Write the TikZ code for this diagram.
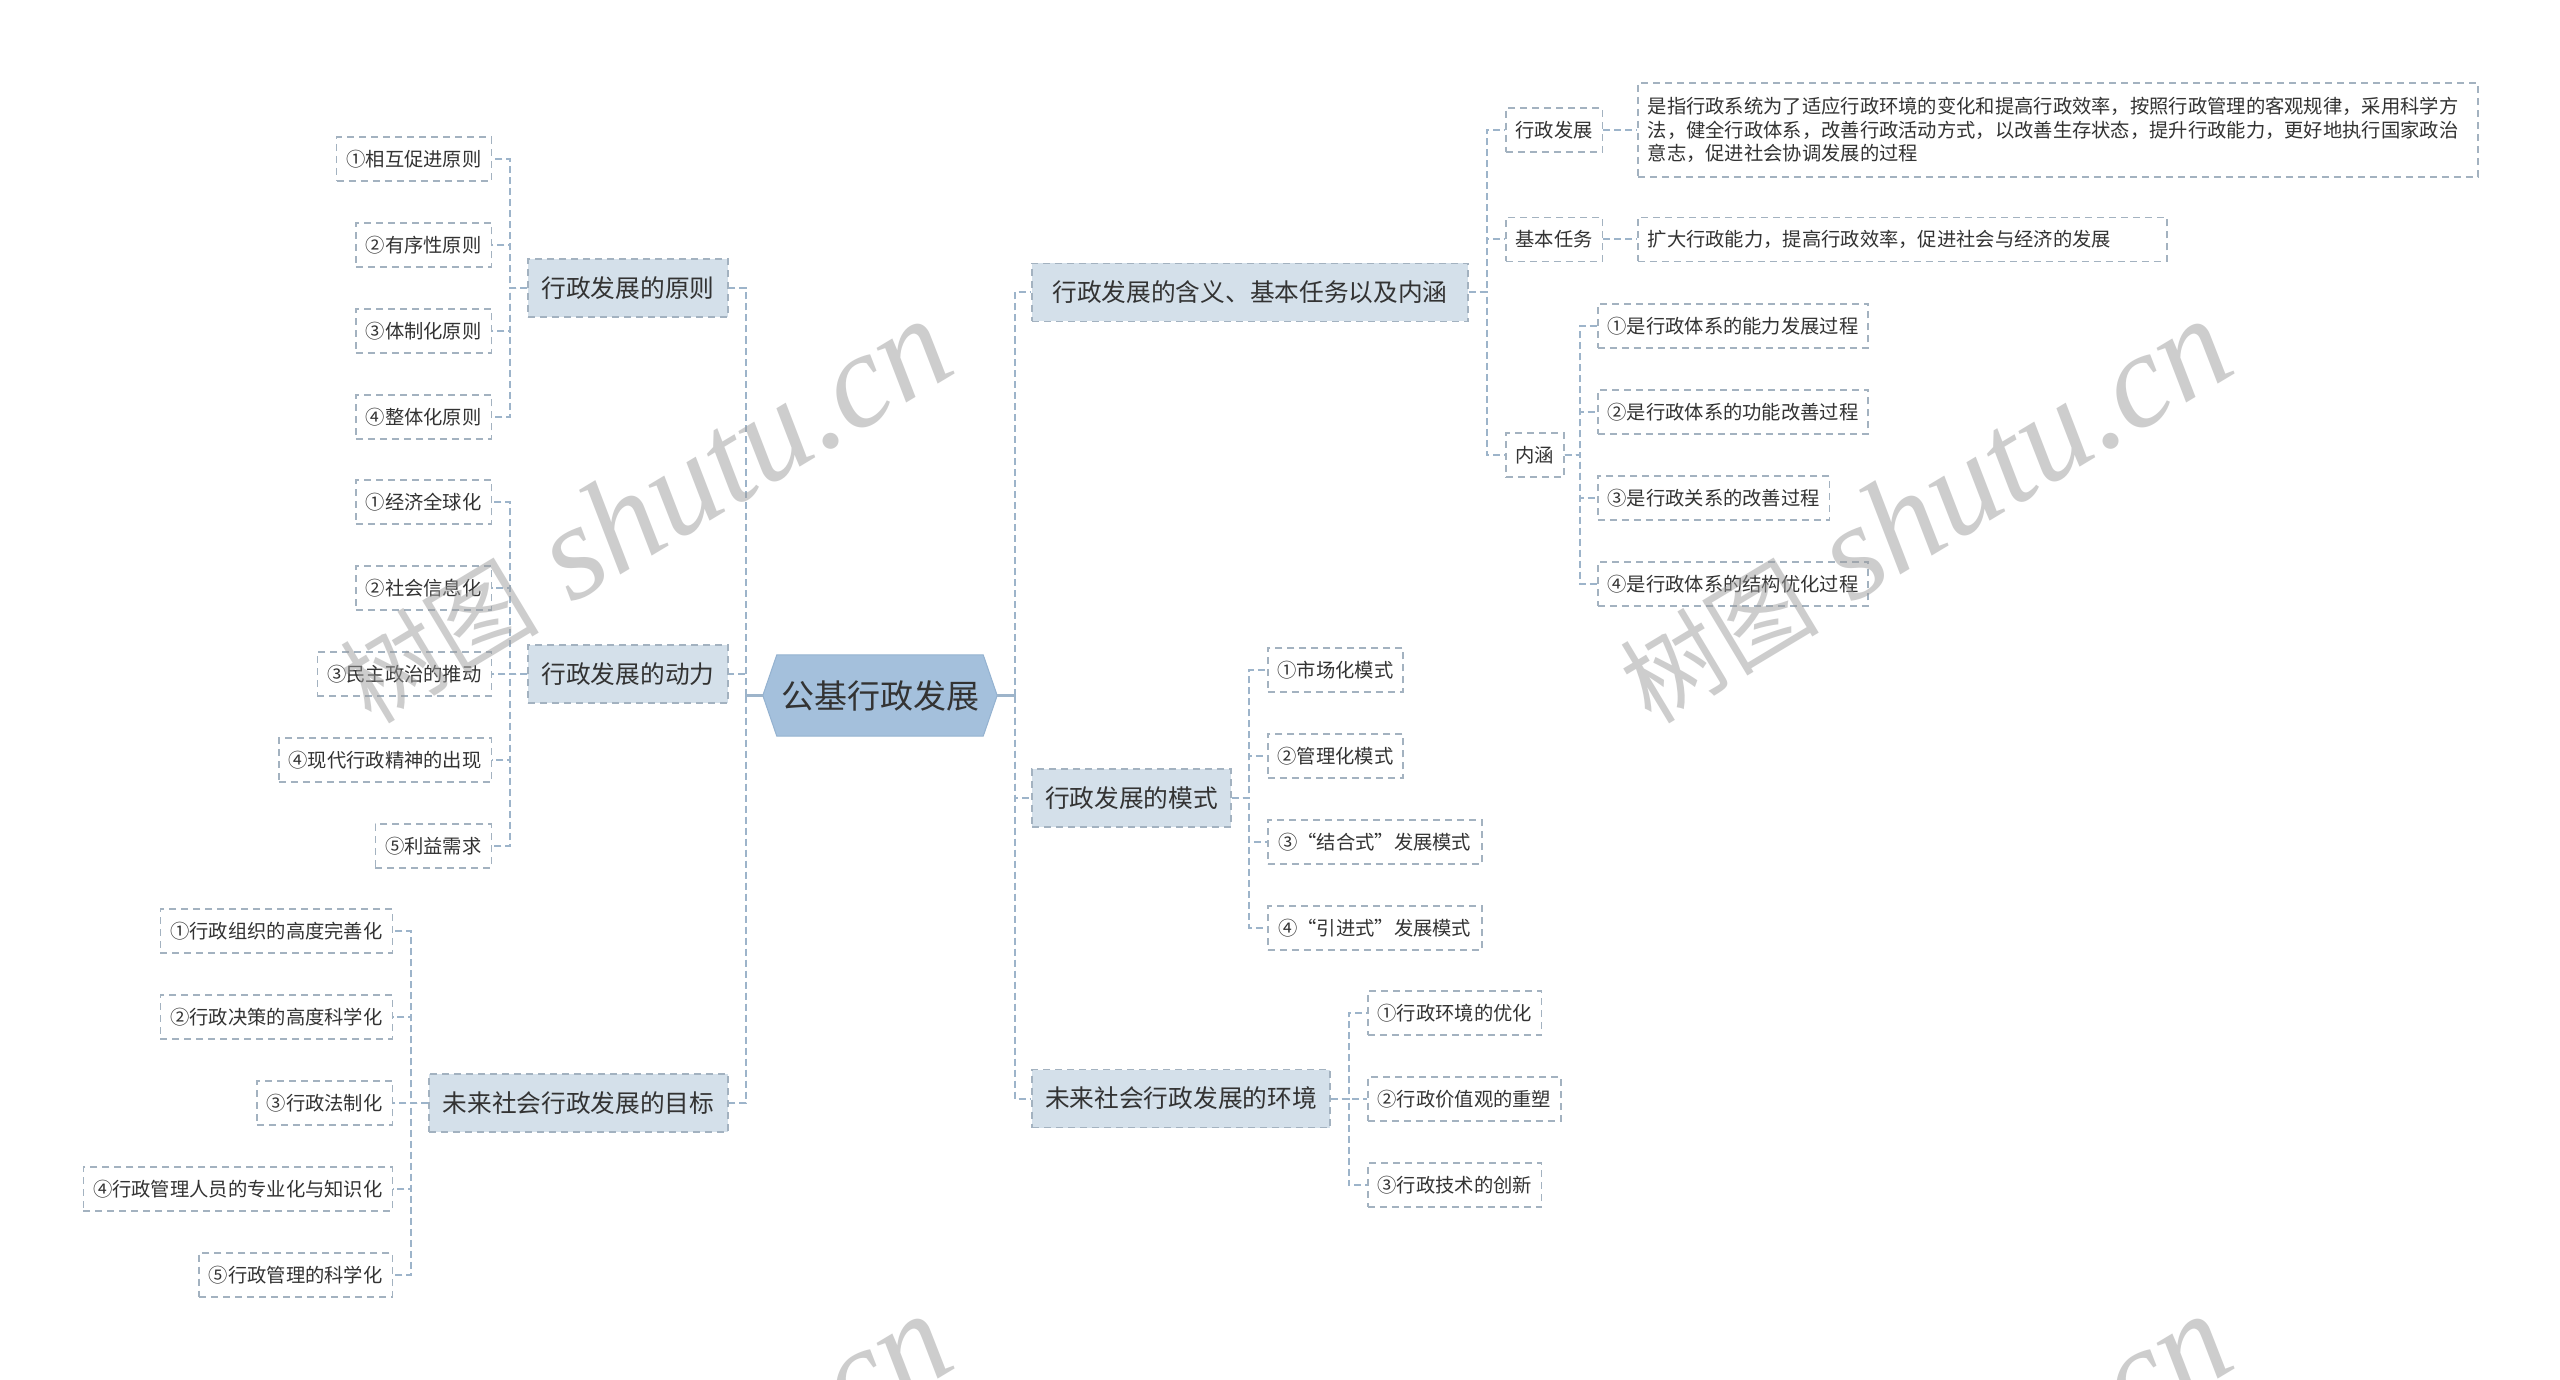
\documentclass[tikz,border=0pt]{standalone}
\usepackage{fontspec}
\setmainfont{Noto Sans CJK SC}
\newfontfamily\wmlatin{Liberation Serif}
\usetikzlibrary{calc}
\pgfdeclarelayer{background}
\pgfsetlayers{background,main}
\definecolor{linecol}{HTML}{9DB4CA}
\definecolor{bordcol}{HTML}{A3B2C0}
\definecolor{lvtwofill}{HTML}{D4E0EA}
\definecolor{rootfill}{HTML}{A4C0DC}
\definecolor{rootedge}{HTML}{94B2D0}
\definecolor{txtcol}{HTML}{333333}
\definecolor{wmcol}{HTML}{9C9C9C}
\newcommand{\wmtext}{{\fontsize{100}{100}\selectfont 树图}\hspace{34pt}{\wmlatin\itshape\fontsize{135}{135}\selectfont shutu.cn}}
\tikzset{
  leaf/.style={draw=bordcol, line width=1.5pt, dash pattern=on 7pt off 5pt,
    minimum height=44pt, inner sep=0pt, text=txtcol,
    font=\fontsize{19.3}{23}\selectfont},
  branch/.style={draw=bordcol, fill=lvtwofill, line width=1.5pt,
    dash pattern=on 7pt off 5pt, minimum height=58pt, inner sep=0pt,
    text=txtcol, font=\fontsize{24.7}{30}\selectfont},
  conn/.style={draw=linecol, line width=2pt, dash pattern=on 7pt off 4pt},
  solidconn/.style={draw=linecol, line width=3pt},
  wmark/.style={rotate=31, text=wmcol, text opacity=0.5, inner sep=0pt, anchor=base},
}
\begin{document}
\begin{tikzpicture}[x=1pt,y=-1pt]
\useasboundingbox (0,0) rectangle (2560,1380);
\begin{pgfonlayer}{background}
\fill[white] (0,0) rectangle (2560,1380);
\end{pgfonlayer}

% root
\node[inner sep=0pt, minimum width=234pt, minimum height=81pt, text=txtcol,
  font=\fontsize{33}{40}\selectfont] (root) at (880,695.5) {公基行政发展};
\begin{pgfonlayer}{background}
\filldraw[fill=rootfill, draw=rootedge, line width=1pt]
  (root.west) -- ([xshift=14pt]root.north west) -- ([xshift=-14pt]root.north east)
  -- (root.east) -- ([xshift=-14pt]root.south east) -- ([xshift=14pt]root.south west) -- cycle;
\end{pgfonlayer}

% bus coordinates
\coordinate (busL) at (745.5,0);
\coordinate (busR) at (1014.5,0);
\coordinate (busPa) at (510,0);
\coordinate (busPc) at (411,0);
\coordinate (busQa) at (1486.5,0);
\coordinate (busQb) at (1249,0);
\coordinate (busQc) at (1348.5,0);
\coordinate (busNH) at (1580,0);

% left branches
\node[branch, minimum width=200pt] (p1) at (628,288) {行政发展的原则};
\node[branch, minimum width=200pt] (p2) at (628,674) {行政发展的动力};
\node[branch, minimum width=299pt] (p3) at (578.5,1103) {未来社会行政发展的目标};

\node[leaf, anchor=east, minimum width=154.6pt] (a1) at (492,159) {①相互促进原则};
\node[leaf, anchor=east, minimum width=135.3pt] (a2) at (492,245) {②有序性原则};
\node[leaf, anchor=east, minimum width=135.3pt] (a3) at (492,331) {③体制化原则};
\node[leaf, anchor=east, minimum width=135.3pt] (a4) at (492,417) {④整体化原则};

\node[leaf, anchor=east, minimum width=135.3pt] (b1) at (492,502) {①经济全球化};
\node[leaf, anchor=east, minimum width=135.3pt] (b2) at (492,588) {②社会信息化};
\node[leaf, anchor=east, minimum width=173.9pt] (b3) at (492,674) {③民主政治的推动};
\node[leaf, anchor=east, minimum width=212.5pt] (b4) at (492,760) {④现代行政精神的出现};
\node[leaf, anchor=east, minimum width=116pt] (b5) at (492,846) {⑤利益需求};

\node[leaf, anchor=east, minimum width=231.8pt] (c1) at (393,931) {①行政组织的高度完善化};
\node[leaf, anchor=east, minimum width=231.8pt] (c2) at (393,1017) {②行政决策的高度科学化};
\node[leaf, anchor=east, minimum width=135.3pt] (c3) at (393,1103) {③行政法制化};
\node[leaf, anchor=east, minimum width=309pt] (c4) at (393,1189) {④行政管理人员的专业化与知识化};
\node[leaf, anchor=east, minimum width=193.2pt] (c5) at (393,1275) {⑤行政管理的科学化};

% right branches
\node[branch, minimum width=436pt] (q1) at (1250,292.5) {行政发展的含义、基本任务以及内涵};
\node[branch, minimum width=199pt] (q2) at (1131.5,798) {行政发展的模式};
\node[branch, minimum width=298pt] (q3) at (1181,1098.5) {未来社会行政发展的环境};

\node[leaf, anchor=west, minimum width=96.7pt] (k1) at (1505,130) {行政发展};
\node[leaf, anchor=west, minimum width=96.7pt] (k2) at (1505,239.5) {基本任务};
\node[leaf, anchor=west, minimum width=58.1pt] (k3) at (1505,455) {内涵};

\node[leaf, anchor=west, text width=820pt, align=left, inner xsep=10pt,
  minimum height=94pt, font=\fontsize{19.3}{23.5}\selectfont] (desc) at (1637,130)
  {是指行政系统为了适应行政环境的变化和提高行政效率，按照行政管理的客观规律，采用科学方\\
   法，健全行政体系，改善行政活动方式，以改善生存状态，提升行政能力，更好地执行国家政治\\
   意志，促进社会协调发展的过程};
\node[leaf, anchor=west, text width=509pt, align=left, inner xsep=10pt] (task) at (1637,239.5)
  {扩大行政能力，提高行政效率，促进社会与经济的发展};

\node[leaf, anchor=west, minimum width=270.4pt] (d1) at (1597,326) {①是行政体系的能力发展过程};
\node[leaf, anchor=west, minimum width=270.4pt] (d2) at (1597,412) {②是行政体系的功能改善过程};
\node[leaf, anchor=west, minimum width=231.8pt] (d3) at (1597,498) {③是行政关系的改善过程};
\node[leaf, anchor=west, minimum width=270.4pt] (d4) at (1597,584) {④是行政体系的结构优化过程};

\node[leaf, anchor=west, minimum width=135.3pt] (e1) at (1267,670) {①市场化模式};
\node[leaf, anchor=west, minimum width=135.3pt] (e2) at (1267,756) {②管理化模式};
\node[leaf, anchor=west, minimum width=214pt] (e3) at (1267,842) {③“结合式”发展模式};
\node[leaf, anchor=west, minimum width=214pt] (e4) at (1267,928) {④“引进式”发展模式};

\node[leaf, anchor=west, minimum width=173.9pt] (f1) at (1367,1013) {①行政环境的优化};
\node[leaf, anchor=west, minimum width=193.2pt] (f2) at (1367,1099) {②行政价值观的重塑};
\node[leaf, anchor=west, minimum width=173.9pt] (f3) at (1367,1185) {③行政技术的创新};

% connectors: root
\draw[solidconn] (root.west) -- (root.west -| busL);
\draw[solidconn] (root.east) -- (root.east -| busR);
\foreach \n in {p1,p2,p3} {
  \draw[conn] (root.west -| busL) |- (\n.east);
}
\foreach \n in {q1,q2,q3} {
  \draw[conn] (root.east -| busR) |- (\n.west);
}
% left level 2 -> 3
\foreach \n in {a1,a2,a3,a4} { \draw[conn] (p1.west) -- (p1.west -| busPa) |- (\n.east); }
\foreach \n in {b1,b2,b3,b4,b5} { \draw[conn] (p2.west) -- (p2.west -| busPa) |- (\n.east); }
\foreach \n in {c1,c2,c3,c4,c5} { \draw[conn] (p3.west) -- (p3.west -| busPc) |- (\n.east); }
% right level 2 -> 3
\foreach \n in {k1,k2,k3} { \draw[conn] (q1.east) -- (q1.east -| busQa) |- (\n.west); }
\draw[conn] (k1.east) -- (desc.west);
\draw[conn] (k2.east) -- (task.west);
\foreach \n in {d1,d2,d3,d4} { \draw[conn] (k3.east) -- (k3.east -| busNH) |- (\n.west); }
\foreach \n in {e1,e2,e3,e4} { \draw[conn] (q2.east) -- (q2.east -| busQb) |- (\n.west); }
\foreach \n in {f1,f2,f3} { \draw[conn] (q3.east) -- (q3.east -| busQc) |- (\n.west); }

% watermark
\begin{scope}
\clip (0,0) rectangle (2560,1380);
\node[wmark] (wm1) at (666,548) {\wmtext};
\node[wmark] (wm2) at (1946,548) {\wmtext};
\node[wmark] (wm3) at (666,1543) {\wmtext};
\node[wmark] (wm4) at (1946,1543) {\wmtext};
\end{scope}
\end{tikzpicture}
\end{document}
